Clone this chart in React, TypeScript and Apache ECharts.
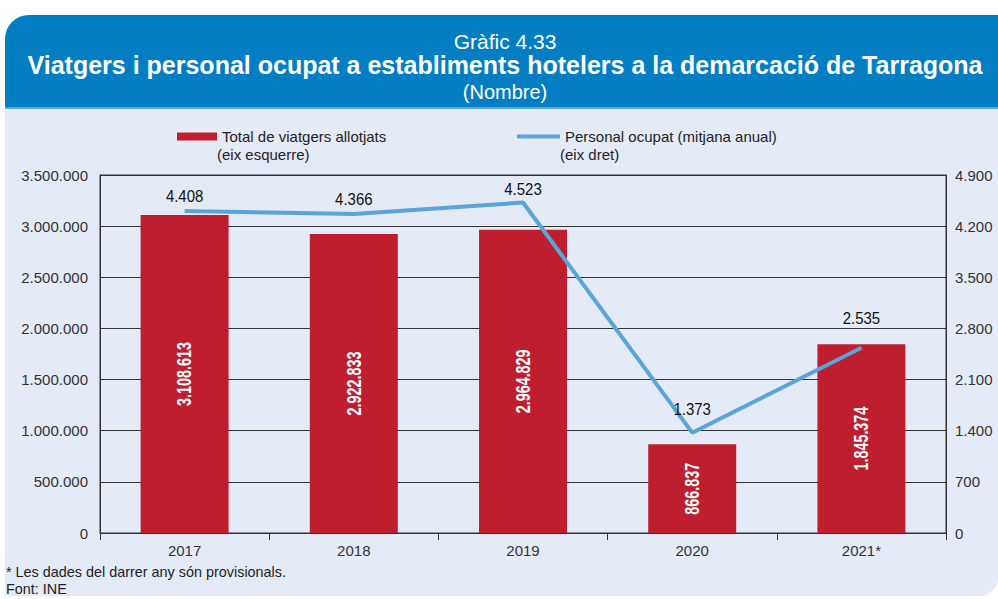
import React, { useEffect, useRef } from "react";
import * as echarts from "echarts";

const categories = ["2017", "2018", "2019", "2020", "2021*"];
const travellers = [3108613, 2922833, 2964829, 866837, 1845374];
const staff = [4408, 4366, 4523, 1373, 2535];
const leftTicks = { min: 0, max: 3500000, interval: 500000 };
const rightTicks = { min: 0, max: 4900, interval: 700 };

// styling: vertical lift (px) of each staff value label above its point
const staffLabelLift = [15, 15, 13, 24, 30];

const fmt = (n: number) => String(Math.round(n)).replace(/\B(?=(\d{3})+(?!\d))/g, ".");
const FONT = "'Liberation Sans', Arial, Helvetica, sans-serif";

export default function App() {
  const ref = useRef<HTMLDivElement>(null);
  useEffect(() => {
    document.body.style.margin = "0";
    const chart = echarts.init(ref.current!, null, { renderer: "svg" });
    chart.setOption({
      animation: false,
      backgroundColor: "#ffffff",
      textStyle: { fontFamily: FONT },
      graphic: [
        { type: "rect", z: -10, shape: { x: 5, y: 15, width: 993, height: 93, r: [24, 0, 0, 0] }, style: { fill: "#037ec3" } },
        { type: "rect", z: -10, shape: { x: 5, y: 108, width: 993, height: 488, r: [0, 0, 18, 0] }, style: { fill: "#e4eaf6" } },
        { type: "rect", z: -9, shape: { x: 5, y: 107, width: 993, height: 2 }, style: { fill: "#5aa8dc" } },
        { type: "text", x: 505, y: 41, style: { text: "Gràfic 4.33", fill: "#ffffff", font: `21px ${FONT}`, align: "center", verticalAlign: "middle" } },
        { type: "text", x: 505, y: 65, style: { text: "Viatgers i personal ocupat a establiments hotelers a la demarcació de Tarragona", fill: "#ffffff", font: `bold 25px ${FONT}`, align: "center", verticalAlign: "middle" } },
        { type: "text", x: 505, y: 92, style: { text: "(Nombre)", fill: "#ffffff", font: `20px ${FONT}`, align: "center", verticalAlign: "middle" } },
        { type: "text", x: 217, y: 154, style: { text: "(eix esquerre)", fill: "#222222", font: `15px ${FONT}`, verticalAlign: "middle" } },
        { type: "text", x: 560, y: 154, style: { text: "(eix dret)", fill: "#222222", font: `15px ${FONT}`, verticalAlign: "middle" } },
        { type: "text", x: 6, y: 572, style: { text: "* Les dades del darrer any són provisionals.", fill: "#222222", font: `14.4px ${FONT}`, verticalAlign: "middle" } },
        { type: "text", x: 6, y: 589, style: { text: "Font: INE", fill: "#222222", font: `14.4px ${FONT}`, verticalAlign: "middle" } },
      ],
      legend: [
        {
          left: 172, top: 124, itemWidth: 40, itemHeight: 8, itemGap: 6,
          data: [{ name: "Total de viatgers allotjats", icon: "rect" }],
          textStyle: { fontSize: 15, color: "#222222", fontFamily: FONT },
          selectedMode: false,
        },
        {
          left: 512, top: 124, itemWidth: 43, itemHeight: 4, itemGap: 6,
          data: [{ name: "Personal ocupat (mitjana anual)", icon: "roundRect" }],
          textStyle: { fontSize: 15, color: "#222222", fontFamily: FONT },
          selectedMode: false,
        },
      ],
      grid: { left: 100, right: 52, top: 175, bottom: 66, show: true, borderColor: "#333333", borderWidth: 1, backgroundColor: "transparent" },
      xAxis: {
        type: "category",
        data: categories,
        axisLine: { lineStyle: { color: "#333333", width: 1 } },
        axisTick: { show: true, length: 7, lineStyle: { color: "#333333" } },
        axisLabel: { fontSize: 15, color: "#333333", margin: 10, fontFamily: FONT },
      },
      yAxis: [
        {
          type: "value", ...leftTicks,
          axisLine: { show: true, lineStyle: { color: "#333333" } },
          axisTick: { show: false },
          splitLine: { show: true, lineStyle: { color: "#333333", width: 1 } },
          axisLabel: { fontSize: 15, color: "#333333", margin: 12, formatter: (v: number) => fmt(v), fontFamily: FONT },
        },
        {
          type: "value", position: "right", ...rightTicks,
          axisLine: { show: true, lineStyle: { color: "#333333" } },
          axisTick: { show: false },
          splitLine: { show: false },
          axisLabel: { fontSize: 15, color: "#333333", margin: 9, formatter: (v: number) => fmt(v), fontFamily: FONT },
        },
      ],
      series: [
        {
          name: "Total de viatgers allotjats",
          type: "bar",
          data: travellers,
          barWidth: "52%",
          itemStyle: { color: "#be1e2d" },
        },
        {
          name: "Personal ocupat (mitjana anual)",
          type: "line",
          yAxisIndex: 1,
          data: staff,
          symbol: "none",
          lineStyle: { color: "#5aa5d8", width: 4 },
          itemStyle: { color: "#5aa5d8" },
        },
        {
          type: "custom",
          yAxisIndex: 0,
          z: 10,
          silent: true,
          data: travellers.map((v, i) => [i, v]),
          renderItem: (params: any, api: any) => {
            const i = api.value(0);
            const v = api.value(1);
            const p = api.coord([i, v / 2]);
            return {
              type: "text",
              x: p[0],
              y: p[1],
              rotation: Math.PI / 2,
              scaleX: 0.72,
              style: { text: fmt(v), fill: "#ffffff", font: `bold 20px ${FONT}`, align: "center", verticalAlign: "middle" },
            };
          },
        },
        {
          type: "custom",
          yAxisIndex: 1,
          z: 10,
          silent: true,
          data: staff.map((v, i) => [i, v]),
          renderItem: (params: any, api: any) => {
            const i = api.value(0);
            const v = api.value(1);
            const p = api.coord([i, v]);
            return {
              type: "text",
              x: p[0],
              y: p[1] - staffLabelLift[i],
              scaleX: 0.88,
              style: { text: fmt(v), fill: "#111111", font: `17px ${FONT}`, align: "center", verticalAlign: "middle" },
            };
          },
        },
      ],
    });
    return () => chart.dispose();
  }, []);
  return <div ref={ref} style={{ position: "fixed", left: 0, top: 0, width: 998, height: 599 }} />;
}
